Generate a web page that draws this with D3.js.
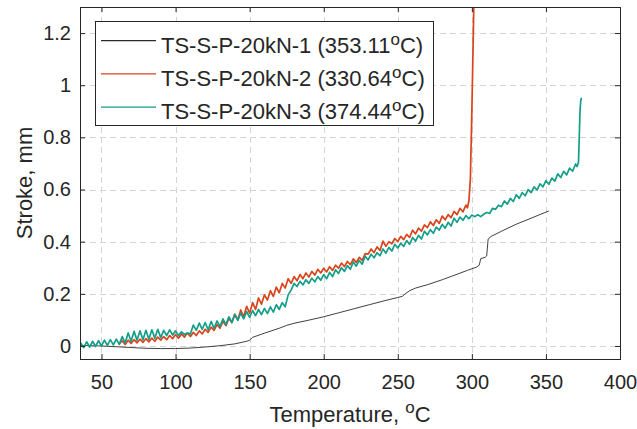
<!DOCTYPE html>
<html>
<head>
<meta charset="utf-8">
<script src="https://cdn.jsdelivr.net/npm/d3@7"></script>
<style>
  body { margin: 0; background: #fff; }
  svg text { font-family: "Liberation Sans", Arial, sans-serif; fill: #262626; }
</style>
</head>
<body>
<div id="chart"></div>
<script>
// Stroke vs temperature, three TS-S-P-20kN specimens

const xTicks = [50, 100, 150, 200, 250, 300, 350, 400];
const yTicks = [0, 0.2, 0.4, 0.6, 0.8, 1, 1.2];

const seriesNames = ['TS-S-P-20kN-1', 'TS-S-P-20kN-2', 'TS-S-P-20kN-3'];
const failTemps = ['353.11', '330.64', '374.44'];

// [temperature, stroke]
const specimen1 = [
  [36, 0.002], [50, 0.0], [60, -0.003], [70, -0.006], [80, -0.009], [90, -0.01],
  [100, -0.01], [110, -0.008], [120, -0.004], [130, 0.001], [140, 0.008], [148, 0.018],
  [150, 0.022], [152, 0.033], [155, 0.039], [160, 0.049], [170, 0.068], [175, 0.079],
  [180, 0.087], [190, 0.099], [200, 0.112], [210, 0.127], [220, 0.142], [230, 0.157],
  [240, 0.172], [250, 0.186], [253, 0.19], [255, 0.2], [258, 0.212], [262, 0.222],
  [270, 0.235], [280, 0.254], [290, 0.275], [297, 0.29], [303, 0.302], [305, 0.31],
  [306, 0.335], [309, 0.34], [310, 0.345], [311, 0.41], [313, 0.42], [320, 0.44],
  [330, 0.467], [340, 0.49], [352, 0.518]
];

const specimen2 = [
  [62, 0.008], [64, 0.02], [66, 0.006], [68, 0.022], [70, 0.01], [72, 0.024],
  [74, 0.012], [76, 0.026], [78, 0.014], [80, 0.028], [82, 0.016], [84, 0.03],
  [86, 0.018], [88, 0.034], [90, 0.022], [92, 0.036], [94, 0.024], [96, 0.04],
  [98, 0.028], [100, 0.044], [102, 0.03], [104, 0.046], [106, 0.034], [108, 0.05],
  [110, 0.036], [112, 0.052], [114, 0.04], [116, 0.058], [118, 0.046], [120, 0.064],
  [122, 0.052], [124, 0.072], [126, 0.06], [128, 0.082], [130, 0.068], [132, 0.094],
  [134, 0.078], [136, 0.106], [138, 0.09], [140, 0.122], [142, 0.1], [144, 0.138],
  [146, 0.112], [148, 0.152], [150, 0.126], [152, 0.166], [154, 0.14], [156, 0.184],
  [158, 0.16], [160, 0.196], [162, 0.176], [164, 0.212], [166, 0.19], [168, 0.226],
  [170, 0.204], [172, 0.24], [174, 0.222], [176, 0.258], [178, 0.24], [180, 0.266],
  [182, 0.25], [184, 0.274], [186, 0.258], [188, 0.28], [190, 0.264], [192, 0.286],
  [194, 0.272], [196, 0.294], [198, 0.28], [200, 0.298], [202, 0.284], [204, 0.304],
  [206, 0.29], [208, 0.31], [210, 0.298], [212, 0.318], [214, 0.304], [216, 0.324],
  [218, 0.312], [220, 0.334], [222, 0.32], [224, 0.34], [226, 0.328], [228, 0.354],
  [230, 0.352], [232, 0.372], [234, 0.358], [236, 0.38], [238, 0.366], [240, 0.402],
  [242, 0.382], [244, 0.4], [246, 0.392], [248, 0.412], [250, 0.4], [252, 0.42],
  [254, 0.408], [256, 0.428], [258, 0.416], [260, 0.444], [262, 0.43], [264, 0.452],
  [266, 0.44], [268, 0.464], [270, 0.454], [272, 0.476], [274, 0.462], [276, 0.484],
  [278, 0.47], [280, 0.498], [282, 0.484], [284, 0.504], [286, 0.492], [288, 0.516],
  [290, 0.504], [292, 0.528], [294, 0.514], [296, 0.54], [297, 0.53], [298, 0.556],
  [299, 0.64], [300, 0.9], [301, 1.2], [301.6, 1.4]
];

const specimen3 = [
  [36, 0.012], [38, -0.006], [40, 0.016], [42, -0.004], [44, 0.018], [46, -0.002],
  [48, 0.02], [50, 0.0], [52, 0.022], [54, 0.002], [56, 0.024], [58, 0.004],
  [60, 0.026], [62, 0.006], [64, 0.036], [66, 0.012], [68, 0.05], [70, 0.018],
  [72, 0.056], [74, 0.022], [76, 0.058], [78, 0.024], [80, 0.06], [82, 0.026],
  [84, 0.062], [86, 0.03], [88, 0.064], [90, 0.032], [92, 0.06], [94, 0.04],
  [96, 0.062], [98, 0.042], [100, 0.058], [102, 0.04], [104, 0.054], [106, 0.044],
  [108, 0.05], [110, 0.046], [112, 0.08], [114, 0.06], [116, 0.088], [118, 0.064],
  [120, 0.09], [122, 0.062], [124, 0.094], [126, 0.068], [128, 0.096], [130, 0.074],
  [132, 0.104], [134, 0.082], [136, 0.112], [138, 0.09], [140, 0.12], [142, 0.098],
  [144, 0.126], [146, 0.104], [148, 0.132], [150, 0.11], [152, 0.136], [154, 0.116],
  [156, 0.14], [158, 0.12], [160, 0.144], [162, 0.124], [164, 0.15], [166, 0.13],
  [168, 0.158], [170, 0.14], [172, 0.166], [174, 0.15], [176, 0.196], [178, 0.214],
  [180, 0.24], [182, 0.228], [184, 0.248], [186, 0.234], [188, 0.254], [190, 0.24],
  [192, 0.26], [194, 0.246], [196, 0.266], [198, 0.252], [200, 0.274], [202, 0.258],
  [204, 0.282], [206, 0.266], [208, 0.292], [210, 0.278], [212, 0.3], [214, 0.286],
  [216, 0.308], [218, 0.294], [220, 0.322], [222, 0.306], [224, 0.328], [226, 0.314],
  [228, 0.344], [230, 0.33], [232, 0.352], [234, 0.338], [236, 0.358], [238, 0.346],
  [240, 0.372], [242, 0.356], [244, 0.378], [246, 0.364], [248, 0.39], [250, 0.376],
  [252, 0.394], [254, 0.382], [256, 0.404], [258, 0.39], [260, 0.416], [262, 0.402],
  [264, 0.424], [266, 0.41], [268, 0.44], [270, 0.426], [272, 0.446], [274, 0.432],
  [276, 0.456], [278, 0.444], [280, 0.466], [282, 0.452], [284, 0.474], [286, 0.46],
  [288, 0.49], [290, 0.474], [292, 0.494], [294, 0.482], [296, 0.5], [298, 0.488],
  [300, 0.502], [302, 0.496], [304, 0.503], [306, 0.496], [308, 0.505], [310, 0.512],
  [312, 0.508], [314, 0.528], [316, 0.524], [318, 0.54], [320, 0.534], [322, 0.556],
  [324, 0.544], [326, 0.566], [328, 0.554], [330, 0.58], [332, 0.566], [334, 0.588],
  [336, 0.576], [338, 0.6], [340, 0.588], [342, 0.61], [344, 0.598], [346, 0.622],
  [348, 0.61], [350, 0.634], [352, 0.62], [354, 0.644], [356, 0.632], [358, 0.66],
  [360, 0.646], [362, 0.67], [364, 0.656], [366, 0.682], [368, 0.67], [370, 0.698],
  [371, 0.688], [372, 0.705], [372.5, 0.8], [373, 0.9], [373.5, 0.94], [374, 0.952]
];

const seriesColors = ['#2b2b2b', '#d9441c', '#139e89'];
const seriesWidths = [0.9, 1.7, 1.7];

const width = 637, height = 429;
const margin = { top: 7, right: 17, bottom: 70, left: 80 };

const svg = d3.select('#chart').append('svg')
  .attr('width', width)
  .attr('height', height);

const x = d3.scaleLinear().domain([35.5, 400]).range([margin.left, width - margin.right]);
const y = d3.scaleLinear().domain([-0.05, 1.3]).range([height - margin.bottom, margin.top]);

const [x0, x1] = x.range();
const [yb, yt] = y.range();

// dashed grid
const grid = svg.append('g')
  .attr('stroke', '#d4d4d4')
  .attr('stroke-width', 1)
  .attr('stroke-dasharray', '6,4');
grid.selectAll('line.v')
  .data(xTicks.filter(d => d < 400))
  .enter().append('line')
  .attr('x1', d => Math.round(x(d)) + 0.5).attr('x2', d => Math.round(x(d)) + 0.5)
  .attr('y1', yt).attr('y2', yb);
grid.selectAll('line.h')
  .data(yTicks)
  .enter().append('line')
  .attr('y1', d => Math.round(y(d)) + 0.5).attr('y2', d => Math.round(y(d)) + 0.5)
  .attr('x1', x0).attr('x2', x1);

// curves
svg.append('clipPath').attr('id', 'plot-clip')
  .append('rect').attr('x', x0).attr('y', yt).attr('width', x1 - x0).attr('height', yb - yt);

const line = d3.line().x(d => x(d[0])).y(d => y(d[1]));
const plot = svg.append('g').attr('clip-path', 'url(#plot-clip)');
[specimen1, specimen2, specimen3].forEach((data, i) => {
  plot.append('path')
    .datum(data)
    .attr('fill', 'none')
    .attr('stroke', seriesColors[i])
    .attr('stroke-width', seriesWidths[i])
    .attr('stroke-linejoin', 'round')
    .attr('d', line);
});

// axes, ticks pointing inward like MATLAB
const fmt = d3.format('~g');
const styleAxis = g => {
  g.select('.domain').remove();
  g.selectAll('.tick line').attr('stroke', '#262626');
  g.selectAll('.tick text').attr('fill', '#262626').style('font-size', '20px');
};

svg.append('g')
  .attr('transform', `translate(0,${yb})`)
  .call(d3.axisBottom(x).tickValues(xTicks).tickSize(-5).tickSizeOuter(0).tickPadding(16).tickFormat(fmt))
  .call(styleAxis);
svg.append('g')
  .attr('transform', `translate(0,${yt})`)
  .call(d3.axisTop(x).tickValues(xTicks).tickSize(-5).tickSizeOuter(0).tickFormat(''))
  .call(styleAxis);
svg.append('g')
  .attr('transform', `translate(${x0},0)`)
  .call(d3.axisLeft(y).tickValues(yTicks).tickSize(-5).tickSizeOuter(0).tickPadding(9).tickFormat(fmt))
  .call(styleAxis);
svg.append('g')
  .attr('transform', `translate(${x1},0)`)
  .call(d3.axisRight(y).tickValues(yTicks).tickSize(-5).tickSizeOuter(0).tickFormat(''))
  .call(styleAxis);

svg.append('rect')
  .attr('x', x0 + 0.5).attr('y', yt + 0.5)
  .attr('width', x1 - x0).attr('height', yb - yt)
  .attr('fill', 'none')
  .attr('stroke', '#262626')
  .attr('stroke-width', 1);

// axis titles
const xTitle = svg.append('text')
  .attr('x', (x0 + x1) / 2)
  .attr('y', 422)
  .attr('text-anchor', 'middle')
  .style('font-size', '22px');
xTitle.append('tspan').text('Temperature, ');
xTitle.append('tspan').attr('dy', -9).style('font-size', '17px').text('o');
xTitle.append('tspan').attr('dy', 9).text('C');

svg.append('text')
  .attr('transform', `translate(32,${(yt + yb) / 2}) rotate(-90)`)
  .attr('text-anchor', 'middle')
  .style('font-size', '22px')
  .text('Stroke, mm');

// legend
const legend = svg.append('g');
legend.append('rect')
  .attr('x', 95.5).attr('y', 21.5)
  .attr('width', 338).attr('height', 104)
  .attr('fill', '#fff')
  .attr('stroke', '#262626');

seriesNames.forEach((name, i) => {
  const base = 52.5 + i * 33.2;
  legend.append('line')
    .attr('x1', 101).attr('x2', 156)
    .attr('y1', base - 11.8).attr('y2', base - 11.8)
    .attr('stroke', seriesColors[i])
    .attr('stroke-width', 1.2);
  const t = legend.append('text')
    .attr('x', 161).attr('y', base)
    .style('font-size', '22px');
  t.append('tspan').text(`${name} (${failTemps[i]}`);
  t.append('tspan').attr('dy', -8).style('font-size', '17px').text('o');
  t.append('tspan').attr('dy', 8).text('C)');
});
</script>
</body>
</html>
